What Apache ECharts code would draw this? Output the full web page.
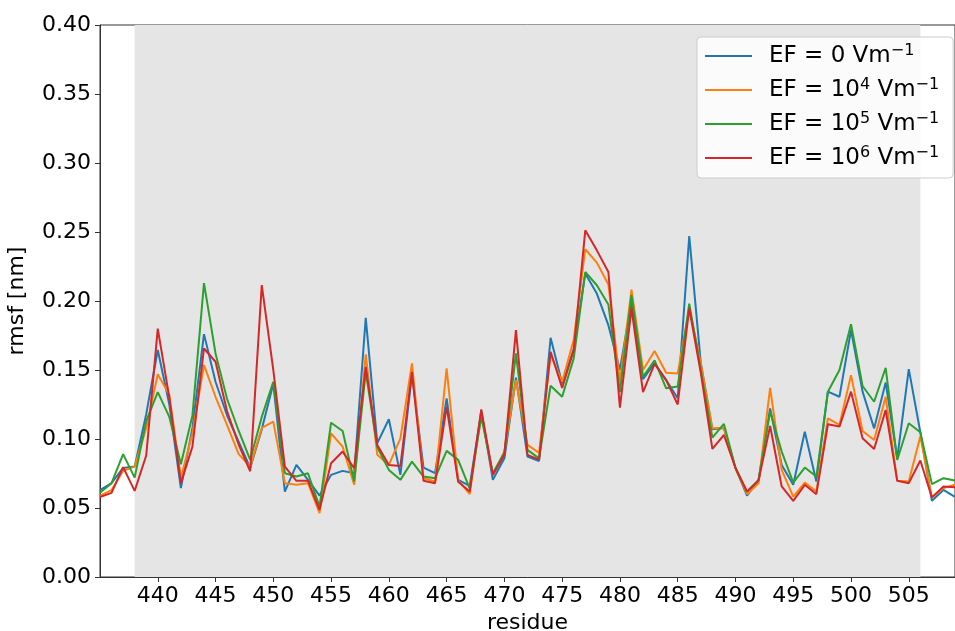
<!DOCTYPE html>
<html><head><meta charset="utf-8">
<script src="https://cdn.jsdelivr.net/npm/echarts@6/dist/echarts.min.js"></script>
<style>html,body{margin:0;padding:0;background:#fff}#c{width:955px;height:631px}</style>
</head><body><div id="c"></div>
<script>
const residues = [435,436,437,438,439,440,441,442,443,444,445,446,447,448,449,450,451,452,453,454,455,456,457,458,459,460,461,462,463,464,465,466,467,468,469,470,471,472,473,474,475,476,477,478,479,480,481,482,483,484,485,486,487,488,489,490,491,492,493,494,495,496,497,498,499,500,501,502,503,504,505,506,507,508,509];
const ef0 = [0.063,0.068,0.079,0.080,0.118,0.1645,0.125,0.0644,0.108,0.176,0.1415,0.117,0.098,0.079,0.107,0.140,0.0619,0.0812,0.0704,0.059,0.074,0.0769,0.0752,0.1878,0.097,0.1143,0.074,0.147,0.0793,0.0752,0.1295,0.0704,0.066,0.120,0.0704,0.086,0.1444,0.0873,0.0841,0.1733,0.1403,0.165,0.220,0.2054,0.1825,0.150,0.200,0.1434,0.155,0.1427,0.1295,0.2471,0.155,0.107,0.108,0.079,0.059,0.0704,0.1222,0.0812,0.0668,0.1053,0.0692,0.1343,0.1306,0.1789,0.1343,0.1077,0.141,0.086,0.1506,0.1049,0.0552,0.0631,0.058];
const ef4 = [0.059,0.063,0.077,0.080,0.108,0.147,0.132,0.072,0.104,0.1535,0.1306,0.110,0.089,0.080,0.108,0.1126,0.068,0.0668,0.068,0.0463,0.104,0.0945,0.0668,0.1613,0.0885,0.0812,0.1005,0.1548,0.0716,0.0692,0.1512,0.070,0.060,0.119,0.074,0.091,0.1427,0.0957,0.090,0.161,0.1415,0.172,0.2375,0.2278,0.212,0.1415,0.2083,0.150,0.1637,0.148,0.1475,0.195,0.155,0.1077,0.108,0.079,0.060,0.068,0.137,0.0776,0.0583,0.0684,0.062,0.115,0.1102,0.1463,0.1058,0.0993,0.1306,0.0697,0.0692,0.102,0.0577,0.0645,0.0668];
const ef5 = [0.061,0.068,0.089,0.072,0.113,0.134,0.116,0.0817,0.117,0.213,0.162,0.129,0.106,0.0849,0.116,0.1415,0.0752,0.0728,0.0752,0.051,0.1118,0.1058,0.0692,0.1487,0.094,0.0776,0.0704,0.0836,0.0728,0.0716,0.0914,0.0849,0.064,0.116,0.0752,0.090,0.162,0.0921,0.086,0.1386,0.1306,0.1584,0.221,0.2114,0.1975,0.134,0.2042,0.145,0.157,0.1367,0.138,0.198,0.150,0.101,0.1109,0.079,0.0619,0.0704,0.120,0.0909,0.0684,0.0793,0.0728,0.1343,0.150,0.1832,0.1384,0.127,0.1516,0.0848,0.1114,0.1049,0.0673,0.0716,0.070];
const ef6 = [0.058,0.061,0.0796,0.0624,0.088,0.180,0.130,0.068,0.0945,0.1656,0.156,0.120,0.096,0.0766,0.2115,0.150,0.080,0.0697,0.0697,0.0487,0.0824,0.0909,0.0788,0.1523,0.0957,0.0812,0.0805,0.1487,0.0697,0.068,0.1234,0.069,0.0619,0.1215,0.074,0.0885,0.1789,0.0885,0.085,0.1632,0.137,0.1644,0.2512,0.2367,0.221,0.1227,0.1946,0.134,0.1545,0.1427,0.125,0.1946,0.148,0.0928,0.1029,0.079,0.0619,0.070,0.1094,0.0656,0.0552,0.0668,0.060,0.1107,0.109,0.1343,0.1005,0.0928,0.121,0.0697,0.068,0.0844,0.0577,0.0656,0.065];
const seriesNames = ['EF = 0 Vm-1','EF = 10^4 Vm-1','EF = 10^5 Vm-1','EF = 10^6 Vm-1'];
const legendRich = ['{n|EF = 0 Vm}{s|\u22121}','{n|EF = 10}{s|4}{n| Vm}{s|\u22121}','{n|EF = 10}{s|5}{n| Vm}{s|\u22121}','{n|EF = 10}{s|6}{n| Vm}{s|\u22121}'];
const colors = ['#1f77b4','#ff7f0e','#2ca02c','#d62728'];
const xTicks = [440,445,450,455,460,465,470,475,480,485,490,495,500,505];
const yTicks = [0,0.05,0.10,0.15,0.20,0.25,0.30,0.35,0.40];
const band = [438,506];

const allData = [ef0, ef4, ef5, ef6];
const font = 'DejaVu Sans';
const chart = echarts.init(document.getElementById('c'), null, {renderer:'canvas'});
const series = allData.map((d,i)=>({
  name: seriesNames[i], type:'line', showSymbol:false, symbol:'none',
  data: residues.map((r,j)=>[r,d[j]]),
  lineStyle:{color:colors[i], width:2}, itemStyle:{color:colors[i]},
  z: 3 + i, animation:false
}));
series.unshift({
  type:'line', data:[], silent:true, z:1,
  markArea:{silent:true, itemStyle:{color:'#e5e5e5'}, data:[[{xAxis:band[0]},{xAxis:band[1]}]]}
});
chart.setOption({
  animation:false,
  color: colors,
  grid:{left:100, right:0, top:25, bottom:54, show:true, borderColor:'#333', borderWidth:1,
        containLabel:false, outerBoundsMode:'none'},
  legend:{
    orient:'vertical', left:697, top:37, padding:[6,14,7,8], itemGap:8,
    itemWidth:47, itemHeight:2, icon:'rect',
    backgroundColor:'rgba(255,255,255,0.85)', borderColor:'#ccc', borderWidth:1, borderRadius:4,
    data: seriesNames,
    formatter: function(name){ return legendRich[seriesNames.indexOf(name)]; },
    textStyle:{ fontFamily:font, fontSize:23, color:'#000', padding:[0,0,0,12],
      rich:{ n:{fontFamily:font, fontSize:23, color:'#000', lineHeight:27},
             s:{fontFamily:font, fontSize:16, color:'#000', lineHeight:27, padding:[0,0,10,0]} } }
  },
  xAxis:{
    type:'value', min:435, max:509, interval:5,
    name:'residue', nameLocation:'middle', nameGap:34,
    nameTextStyle:{fontFamily:font, fontSize:22, color:'#000'},
    axisLine:{show:true, lineStyle:{color:'#333', width:1}},
    axisTick:{show:true, length:5, inside:false, customValues:xTicks, lineStyle:{color:'#333'}},
    axisLabel:{show:true, customValues:xTicks, fontFamily:font, fontSize:22, color:'#000', margin:8},
    splitLine:{show:false}
  },
  yAxis:{
    type:'value', min:0, max:0.4, interval:0.05,
    name:'rmsf [nm]', nameLocation:'middle', nameGap:72,
    nameTextStyle:{fontFamily:font, fontSize:22, color:'#000'},
    axisLine:{show:true, lineStyle:{color:'#333', width:1}},
    axisTick:{show:true, length:5, customValues:yTicks, lineStyle:{color:'#333'}},
    axisLabel:{customValues:yTicks, fontFamily:font, fontSize:22, color:'#000', margin:9, formatter:v=>v.toFixed(2)},
    splitLine:{show:false}
  },
  series: series
});
</script></body></html>
